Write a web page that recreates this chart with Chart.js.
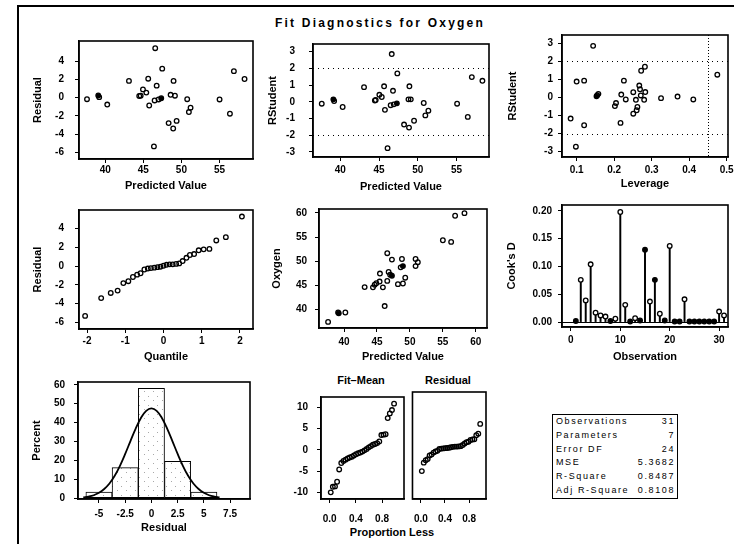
<!DOCTYPE html>
<html><head><meta charset="utf-8">
<script src="https://cdn.jsdelivr.net/npm/chart.js@4.4.0/dist/chart.umd.min.js"></script>
<style>
html,body{margin:0;padding:0;background:#fff;}
body{width:734px;height:544px;position:relative;overflow:hidden;font-family:'Liberation Sans',Arial,sans-serif;}
canvas{position:absolute;}
.txt{position:absolute;white-space:nowrap;font-weight:bold;color:#000;transform:translate(-50%,-50%);line-height:1;}
#frame{position:absolute;left:17px;top:5px;width:740px;height:560px;border-top:2px solid #000;border-left:2px solid #000;}
#stats{position:absolute;left:552px;top:414px;width:124px;border:1.5px solid #000;font-size:9px;letter-spacing:1.6px;color:#000;}
#stats .row{height:13.8px;line-height:13.8px;display:flex;justify-content:space-between;padding:0 2px 0 3px;}
</style></head><body>
<div id="frame"></div>
<div class="txt" style="left:380px;top:23px;font-size:12px;letter-spacing:2.2px;">Fit Diagnostics for Oxygen</div>
<div class="txt" style="left:361px;top:380px;font-size:11px;">Fit–Mean</div>
<div class="txt" style="left:448px;top:380px;font-size:11px;">Residual</div>
<div class="txt" style="left:392px;top:532px;font-size:11px;">Proportion Less</div>
<div id="stats"></div>
<script>
// ---------- data ----------
const predicted1 = [46.56,47.48,56.89,58.29,43.11,45.64,48.97,46.75,44.95,45.39,44.65,39.08,37.60,40.26,48.58,49.15,47.35,47.00,46.48,45.77,50.76,51.20,50.98,55.01,56.37,49.37,48.32,48.92,46.39,39.20,44.46];
const residual1  = [5.41,3.17,2.90,2.04,1.83,2.07,1.83,1.31,0.90,0.55,0.21,0.24,-0.17,-0.76,0.31,0.21,-0.07,-0.20,-0.31,-0.86,-0.17,-1.10,-1.58,-0.20,-1.76,-2.55,-2.79,-3.38,-5.34,0.05,0.18];

const predicted2 = [46.64,47.36,56.98,58.35,43.06,45.65,48.92,46.80,45.04,45.35,44.57,39.10,37.60,40.30,48.80,49.10,47.30,46.90,46.50,45.76,50.77,51.37,50.98,55.08,56.46,49.52,48.23,48.87,46.10,39.20,44.46];
const rstudent2  = [2.86,1.70,1.48,1.26,0.88,0.93,0.93,0.66,0.42,0.29,0.11,0.15,-0.11,-0.31,0.15,0.15,-0.09,-0.15,-0.20,-0.48,-0.07,-0.53,-0.81,-0.11,-0.90,-1.13,-1.36,-1.54,-2.77,0.05,0.08];

const leverage3 = [0.144,0.084,0.098,0.100,0.120,0.120,0.153,0.226,0.272,0.282,0.219,0.231,0.205,0.202,0.217,0.251,0.267,0.269,0.271,0.258,0.280,0.262,0.260,0.251,0.325,0.369,0.411,0.475,0.155,0.158,0.283];
const rstudent3 = [2.86,-1.17,-2.73,0.88,0.93,-1.54,0.07,0.93,1.48,1.70,0.16,-0.11,-0.31,-0.48,-1.41,0.29,0.66,0.45,0.11,-0.13,-0.13,-0.53,-0.71,-0.90,-0.04,0.05,-0.11,1.26,0.12,0.20,0.30];

const quantile4 = [-2.05,-1.63,-1.38,-1.20,-1.05,-0.92,-0.80,-0.69,-0.60,-0.50,-0.41,-0.33,-0.24,-0.16,-0.08,0.00,0.08,0.16,0.24,0.33,0.41,0.50,0.60,0.69,0.80,0.92,1.05,1.20,1.38,1.63,2.05];
const residualSorted = [-5.30,-3.40,-2.85,-2.60,-1.80,-1.60,-1.15,-0.90,-0.75,-0.35,-0.25,-0.20,-0.15,-0.10,-0.05,0.05,0.15,0.20,0.20,0.25,0.30,0.55,0.90,1.20,1.30,1.70,1.80,1.85,2.75,3.10,5.30];

const predicted5 = [58.28,56.86,55.00,56.26,46.56,47.27,48.79,50.86,51.20,50.86,48.94,48.60,45.45,46.77,47.27,49.29,46.56,45.40,48.18,48.94,44.90,44.65,44.39,43.13,45.90,46.17,40.20,39.20,37.58,39.10,47.00];
const oxygen5    = [59.94,59.40,54.34,54.00,51.66,50.34,50.46,50.46,49.80,49.00,49.00,48.74,47.46,47.80,47.00,46.60,45.94,45.80,45.26,45.40,45.46,45.14,44.60,44.66,44.60,40.74,39.40,39.26,37.46,39.40,47.20];

const observation6 = [1,2,3,4,5,6,7,8,9,10,11,12,13,14,15,16,17,18,19,20,21,22,23,24,25,26,27,28,29,30,31];
const cooksD6 = [0.002,0.076,0.039,0.104,0.017,0.012,0.010,0.002,0.006,0.198,0.031,0.001,0.007,0.003,0.130,0.037,0.076,0.015,0.003,0.137,0.001,0.001,0.041,0.001,0.001,0.001,0.001,0.001,0.001,0.019,0.012];

const histMid = [-5,-2.5,0,2.5,5];
const histPercent = [3.2,16.1,58.1,19.4,3.2];
const curveX = [-6.5,-6,-5.5,-5,-4.5,-4,-3.5,-3,-2.5,-2,-1.5,-1,-0.5,0,0.5,1,1.5,2,2.5,3,3.5,4,4.5,5,5.5,6,6.5];
const curveY = [0.4,0.8,1.5,2.8,4.8,7.7,11.8,17.1,23.4,30.2,36.8,42.4,46.2,47.5,46.2,42.4,36.8,30.2,23.4,17.1,11.8,7.7,4.8,2.8,1.5,0.8,0.4];

const proportion8 = [0.016,0.048,0.081,0.113,0.145,0.177,0.210,0.242,0.274,0.306,0.339,0.371,0.403,0.435,0.468,0.500,0.532,0.565,0.597,0.629,0.661,0.694,0.726,0.758,0.790,0.823,0.855,0.887,0.919,0.952,0.984];
const fitMean8 = [-10.0,-8.7,-8.6,-7.5,-4.6,-3.1,-2.6,-2.3,-2.0,-1.8,-1.6,-1.3,-1.0,-0.8,-0.6,-0.4,-0.1,0.2,0.6,0.9,1.2,1.4,1.6,2.0,3.5,3.6,3.7,7.5,8.6,9.4,10.9];

const statLabels = ['Observations','Parameters','Error DF','MSE','R-Square','Adj R-Square'];
const statValues = ['31','7','24','5.3682','0.8487','0.8108'];

// tick labels
const ticksPred = [40,45,50,55];
const ticksResid = [-6,-4,-2,0,2,4];
const ticksRStud = [-3,-2,-1,0,1,2,3];
const ticksLev = [0.1,0.2,0.3,0.4,0.5];
const ticksQuant = [-2,-1,0,1,2];
const ticksOxy = [40,45,50,55,60];
const ticksObs = [0,10,20,30];
const ticksCook = [0,0.05,0.10,0.15,0.20];
const ticksHistX = [-5,-2.5,0,2.5,5,7.5];
const ticksPct = [0,10,20,30,40,50,60];
const ticksSpreadY = [-10,-5,0,5,10];
const ticksProp = [0,0.4,0.8];
const refRStudent = [-2,2];
const refLeverage = [0.45];
const refCook = [0];

// ---------- stats table ----------
const st = document.getElementById('stats');
statLabels.forEach((l,i)=>{
  const r=document.createElement('div'); r.className='row';
  const a=document.createElement('span'); a.textContent=l;
  const b=document.createElement('span'); b.textContent=statValues[i];
  r.appendChild(a); r.appendChild(b); st.appendChild(r);
});

// ---------- charts ----------
Chart.defaults.font.family = "'Liberation Sans', Arial, sans-serif";
Chart.defaults.font.size = 10;
Chart.defaults.font.weight = 'bold';
Chart.defaults.color = '#000';

const decor = {
  id:'decor',
  beforeDatasetsDraw(chart, args, o){
    const {ctx, chartArea:a, scales:{x,y}} = chart;
    ctx.save();
    (o.refs||[]).forEach(r=>{
      ctx.beginPath(); ctx.setLineDash(r.dash||[]); ctx.lineWidth=r.w||1; ctx.strokeStyle='#000';
      if(r.axis==='y'){const py=Math.round(y.getPixelForValue(r.v))+0.5; ctx.moveTo(a.left,py); ctx.lineTo(a.right,py);}
      else {const px=Math.round(x.getPixelForValue(r.v))+0.5; ctx.moveTo(px,a.top); ctx.lineTo(px,a.bottom);}
      ctx.stroke();
    });
    ctx.restore();
  },
  afterDraw(chart){
    const {ctx, chartArea:a} = chart;
    ctx.save(); ctx.lineWidth=1.6; ctx.strokeStyle='#000'; ctx.setLineDash([]);
    ctx.strokeRect(a.left, a.top, a.right-a.left, a.bottom-a.top);
    ctx.restore();
  }
};

function fmt(v, dec){ return dec==null ? String(v) : Number(v).toFixed(dec); }
function pts(xs, ys){ return xs.map((x,i)=>({x:x, y:ys[i]})); }
function fills(n, idx){ return Array.from({length:n},(_,i)=> idx.includes(i) ? '#000' : 'rgba(0,0,0,0)'); }
function scatterDs(xs, ys, filled, white){
  return {type:'scatter', data:pts(xs,ys), pointRadius:2.3, pointBorderWidth:1.3,
    borderColor:'#000', pointBorderColor:'#000',
    pointBackgroundColor: white ? xs.map((_,i)=>(filled||[]).includes(i)?'#000':'#fff') : fills(xs.length, filled||[]),
    showLine:false};
}
function refs(axis, vals, dash, w){ return vals.map(v=>({axis:axis, v:v, dash:dash, w:w})); }

function makePanel(p){
  const TP=10, RP=16;
  const lw = p.lw!=null ? p.lw : Math.round(p.plot.l - p.yTitleX + 6.6);
  const hb = p.hb!=null ? p.hb : Math.round(p.xTitleY + 6.6 - p.plot.b);
  const W = lw + (p.plot.r - p.plot.l) + RP, H = TP + (p.plot.b - p.plot.t) + hb;
  const cv = document.createElement('canvas');
  cv.width=W; cv.height=H;
  cv.style.left=(p.plot.l-lw)+'px'; cv.style.top=(p.plot.t-TP)+'px';
  cv.style.width=W+'px'; cv.style.height=H+'px';
  document.body.appendChild(cv);
  const gridCfg = {drawOnChartArea:false, drawTicks:true, tickLength:4, color:'#000', tickColor:'#000', lineWidth:1};
  const cfg = {
    type:'scatter',
    data:{datasets:p.datasets},
    plugins:[decor],
    options:{
      responsive:false, animation:false, devicePixelRatio:1,
      layout:{padding:{top:TP, right:RP, bottom:0, left: p.noY ? lw : 0}},
      plugins:{legend:{display:false}, tooltip:{enabled:false}, decor:{refs:p.refs||[]}},
      scales:{
        x:{type:'linear', min:p.x[0], max:p.x[1], offset:false,
          afterFit: s=>{ s.height = hb; },
          afterBuildTicks: s=>{ s.ticks = p.xTicks.map(v=>({value:v})); },
          ticks:{autoSkip:false, maxRotation:0, minRotation:0, padding:p.xPad, callback:v=>fmt(v,p.xDec)},
          grid:Object.assign({offset:false}, gridCfg),
          border:{display:true, color:'#000', width:1.5},
          title:{display:!!p.xTitle, text:p.xTitle||'', padding:0, font:{size:11, weight:'bold'}}
        },
        y:{type:'linear', min:p.y[0], max:p.y[1], display: !p.noY,
          afterFit: s=>{ s.width = lw; },
          afterBuildTicks: s=>{ s.ticks = p.yTicks.map(v=>({value:v})); },
          ticks:{autoSkip:false, padding:p.yPad, callback:v=>fmt(v,p.yDec)},
          grid:gridCfg,
          border:{display:true, color:'#000', width:1.5},
          title:{display:!!p.yTitle, text:p.yTitle||'', padding:0, font:{size:11, weight:'bold'}}
        }
      }
    }
  };
  return new Chart(cv, cfg);
}

// Panel 1: Residual vs Predicted
makePanel({plot:{l:79,t:34,r:253,b:159}, x:[36.55,59.4], y:[-6.72,6.2], xTicks:ticksPred, yTicks:ticksResid,
  yTitle:'Residual', yTitleX:38, xTitle:'Predicted Value', xTitleY:186, yPad:11, xPad:1,
  datasets:[scatterDs(predicted1, residual1, [11,16])]});

// Panel 2: RStudent vs Predicted
makePanel({plot:{l:313,t:34,r:489,b:157}, x:[36.47,59.2], y:[-3.3,3.46], xTicks:ticksPred, yTicks:ticksRStud,
  yTitle:'RStudent', yTitleX:273, xTitle:'Predicted Value', xTitleY:187, yPad:14, xPad:3,
  refs:refs('y', refRStudent, [1,4], 1),
  datasets:[scatterDs(predicted2, rstudent2, [11,16])]});

// Panel 3: RStudent vs Leverage
makePanel({plot:{l:562,t:34,r:728,b:157}, x:[0.061,0.5035], y:[-3.3,3.46], xTicks:ticksLev, xDec:1, yTicks:ticksRStud,
  yTitle:'RStudent', yTitleX:513, xTitle:'Leverage', xTitleY:184, yPad:5, xPad:3,
  refs:refs('y', refRStudent, [1,4], 1).concat(refs('x', refLeverage, [1,2], 1)),
  datasets:[scatterDs(leverage3, rstudent3, [6])]});

// Panel 4: Q-Q
makePanel({plot:{l:79,t:203,r:253,b:329}, x:[-2.21,2.34], y:[-6.7,6.0], xTicks:ticksQuant, yTicks:ticksResid,
  yTitle:'Residual', yTitleX:38, xTitle:'Quantile', xTitleY:357, yPad:11, xPad:2,
  datasets:[scatterDs(quantile4, residualSorted, [])]});

// Panel 5: Oxygen vs Predicted
makePanel({plot:{l:319,t:205,r:487,b:328}, x:[36.2,61.7], y:[36.2,60.8], xTicks:ticksOxy, yTicks:ticksOxy,
  yTitle:'Oxygen', yTitleX:277, xTitle:'Predicted Value', xTitleY:357, yPad:8, xPad:4,
  datasets:[scatterDs(predicted5, oxygen5, [10,14,27])]});

// Panel 6: Cook's D
makePanel({plot:{l:562,t:203,r:728,b:327}, x:[-1.8,31.8], y:[-0.0088,0.2106], xTicks:ticksObs, yTicks:ticksCook, yDec:2,
  yTitle:"Cook's D", yTitleX:512, xTitle:'Observation', xTitleY:357, yPad:6, xPad:3,
  refs:refs('y', refCook, [], 1),
  datasets:[
    scatterDs(observation6, cooksD6, [0,7,11,13,14,16,18,20,21,23,24,25,26,27,28], true),
    {type:'bar', data:pts(observation6, cooksD6), backgroundColor:'#000', borderWidth:0, barThickness:1.3, grouped:false}
  ]});

// Panel 7: histogram
const pc = document.createElement('canvas'); pc.width=9; pc.height=9;
const pg = pc.getContext('2d'); pg.fillStyle='#fff'; pg.fillRect(0,0,9,9);
pg.fillStyle='#a8a8a8'; pg.fillRect(1,2,1,1); pg.fillRect(6,6,1,1);
const stipple = pg.createPattern(pc,'repeat');
makePanel({plot:{l:78,t:377,r:250,b:499}, x:[-7.0,9.4], y:[-0.5,61.5], xTicks:ticksHistX, yTicks:ticksPct,
  yTitle:'Percent', yTitleX:37, xTitle:'Residual', xTitleY:528, yPad:9, xPad:5,
  datasets:[
    {type:'line', data:pts(curveX, curveY), borderColor:'#000', borderWidth:1.8, pointRadius:0, tension:0.4, fill:false, showLine:true},
    {type:'bar', data:pts(histMid, histPercent), backgroundColor:stipple, borderColor:'#000', borderWidth:1, borderSkipped:false,
      barPercentage:1, categoryPercentage:1, grouped:false}
  ]});

// Panel 8: spread plots
makePanel({plot:{l:321,t:392,r:404,b:499}, x:[-0.133,1.136], y:[-11.57,12.47], xTicks:ticksProp, xDec:1, yTicks:ticksSpreadY,
  lw:32, hb:30, yPad:9, xPad:10,
  datasets:[scatterDs(proportion8, fitMean8, [])]});
makePanel({plot:{l:407,t:392,r:486,b:499}, x:[-0.139,1.08], y:[-11.57,12.47], xTicks:ticksProp, xDec:1, yTicks:ticksSpreadY,
  lw:4, hb:30, noY:true, yPad:9, xPad:10,
  datasets:[scatterDs(proportion8, residualSorted, [])]});
</script>
</body></html>
